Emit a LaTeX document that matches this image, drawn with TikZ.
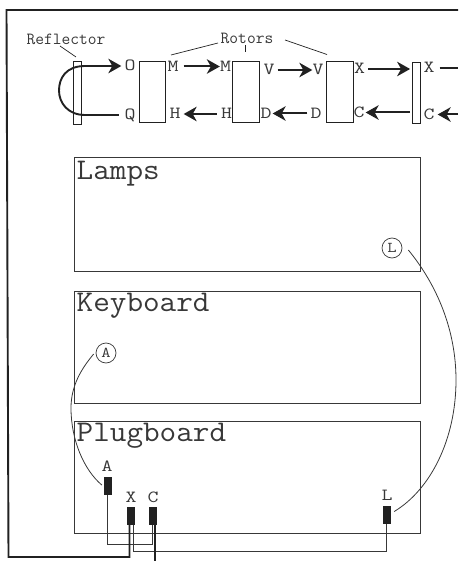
\documentclass[tikz,border=0pt]{standalone}
\usepackage{graphicx}
\usetikzlibrary{arrows.meta}
\definecolor{ink}{gray}{0.13}
\definecolor{thin}{gray}{0.22}
\newcommand{\wideT}[1]{\scalebox{1.075}[1]{#1}}
\newcommand{\wideL}[1]{\scalebox{1.25}[1]{#1}}
\tikzset{
  box/.style={draw=thin,line width=0.9pt,rectangle,inner sep=0pt},
  title/.style={anchor=base west,inner sep=0pt,text=thin,font=\fontsize{30}{30}\ttfamily},
  small/.style={inner sep=0pt,text=thin,font=\fontsize{17}{17}\ttfamily},
  lbl/.style={inner sep=0pt,text=thin,text height=10pt,text depth=0pt,font=\fontsize{17}{17}\ttfamily},
  plug/.style={inner sep=0pt,text=thin,font=\fontsize{17}{17}\ttfamily},
  jack/.style={fill=ink,draw=none,rectangle,inner sep=0pt,minimum width=8pt,minimum height=18pt},
  circ/.style={circle,draw=thin,line width=0.7pt,inner sep=0pt,minimum size=20pt,text=thin,font=\fontsize{15}{15}\ttfamily},
  arr/.style={draw=ink,line width=2pt,-{Stealth[length=13pt,width=14.5pt,inset=4pt]}},
  heavy/.style={draw=ink,line width=1.9pt},
  wire/.style={draw=thin,line width=0.8pt},
  pointer/.style={draw=ink,line width=0.7pt}
}
\begin{document}
\begin{tikzpicture}[x=1pt,y=-1pt]
\useasboundingbox (0,0) rectangle (458,561);
% boxes
\node[box,minimum width=346pt,minimum height=114pt] (lamps) at (247,214) {};
\node[box,minimum width=346pt,minimum height=112pt] (keyboard) at (247,347) {};
\node[box,minimum width=346pt,minimum height=112pt] (plugboard) at (247,477) {};
\node[title] (tl) at (76.5,179) {\wideT{Lamps}};
\node[title] (tk) at (76.5,311) {\wideT{Keyboard}};
\node[title] (tp) at (76.5,441) {\wideT{Plugboard}};
% rotor row
\node[box,draw=ink,minimum width=8pt,minimum height=63pt] (refl) at (77.3,92.5) {};
\node[box,draw=ink,minimum width=26.5pt,minimum height=60.5pt] (r1) at (152.3,92) {};
\node[box,draw=ink,minimum width=26.5pt,minimum height=60.5pt] (r2) at (246,92) {};
\node[box,draw=ink,minimum width=26.5pt,minimum height=60.5pt] (r3) at (339.7,92) {};
\node[box,draw=ink,minimum width=7.5pt,minimum height=61pt] (bar) at (416.3,92.5) {};
\node[small] (treflector) at (66,39) {Reflector};
\node[small] (trotors) at (247,38) {Rotors};
% letters
\node[lbl] (o) at (130,66) {\wideL{O}};
\node[lbl] (q) at (130,115) {\wideL{Q}};
\node[lbl] (m1) at (173,66.5) {\wideL{M}};
\node[lbl] (h1) at (175,114) {\wideL{H}};
\node[lbl] (m2) at (225.5,66.5) {\wideL{M}};
\node[lbl] (h2) at (226.5,114) {\wideL{H}};
\node[lbl] (v1) at (269,70) {\wideL{V}};
\node[lbl] (d1) at (266,113.5) {\wideL{D}};
\node[lbl] (v2) at (318,70) {\wideL{V}};
\node[lbl] (d2) at (316,113.5) {\wideL{D}};
\node[lbl] (x1) at (359.5,69) {\wideL{X}};
\node[lbl] (c1) at (359,112.5) {\wideL{C}};
\node[lbl] (x2) at (429,68) {\wideL{X}};
\node[lbl] (c2) at (429,114.5) {\wideL{C}};
% free ends
\coordinate (xout) at (458,68);
\coordinate (cin) at (458,114.5);
\coordinate (reflA) at (85,66);
\coordinate (reflB) at (85,115);
\coordinate (ptr1) at (60,46);
\coordinate (ptr2) at (76,57);
\coordinate (rl1) at (218,43);
\coordinate (rl2) at (171,55);
\coordinate (rc1) at (245,45);
\coordinate (rc2) at (245,52);
\coordinate (rr1) at (285,40);
\coordinate (rr2) at (327,54.5);
% arrows
\draw[heavy] (reflA) .. controls (66,66) and (59,78) .. (59,90.5) .. controls (59,103) and (68,115) .. (reflB);
\draw[arr,shorten >=3pt] (reflA) -- (o.west);
\draw[heavy,shorten >=5pt] (reflB) -- (q.west);
\draw[arr,shorten <=5pt,shorten >=0pt] (m1.east) -- (m2.west);
\draw[arr,shorten <=4pt,shorten >=3pt] (h2.west) -- (h1.east);
\draw[arr,shorten <=3pt,shorten >=0pt] (v1.east) -- (v2.west);
\draw[arr,shorten <=3pt,shorten >=1pt] (d2.west) -- (d1.east);
\draw[arr,shorten <=3pt,shorten >=2pt] (x1.east) -- (bar.west |- x1.east);
\draw[arr,shorten <=2pt,shorten >=1pt] (bar.west |- c1.east) -- (c1.east);
\draw[heavy,shorten <=5pt] (x2.east) -- (xout);
\draw[arr,shorten >=3pt] (cin) -- (c2.east);
\draw[pointer] (ptr1) -- (ptr2);
\draw[pointer] (rl1) -- (rl2);
\draw[pointer] (rc1) -- (rc2);
\draw[pointer] (rr1) -- (rr2);
% jacks
\node[jack] (ja) at (108,486) {};
\node[jack] (jx) at (131,516) {};
\node[jack] (jc) at (153,516) {};
\node[jack] (jl) at (387,514.5) {};
\node[plug] (la) at (107,466) {\wideL{A}};
\node[plug] (lx) at (131,497) {\wideL{X}};
\node[plug] (lc) at (153,497) {\wideL{C}};
\node[plug] (ll) at (387,495) {\wideL{L}};
% circles
\node[circ] (ca) at (106,353) {\scalebox{1.2}[1]{A}};
\node[circ] (cl) at (392,248) {\scalebox{1.2}[1]{L}};
% long curves
\draw[wire] (ca.west) ++(-2,1) .. controls (82,368) and (71,385) .. (71,408) .. controls (71,440) and (84,470) .. ([xshift=-2pt,yshift=1pt]ja.west);
\draw[wire] (cl.east) ++(6,2) .. controls (437,285) and (456,330) .. (456,380) .. controls (456,440) and (430,490) .. ([xshift=3pt,yshift=3pt]jl.east);
% wires
\coordinate (n1) at (107,544);
\coordinate (n2) at (152,544);
\coordinate (n3) at (133.3,551);
\coordinate (n4) at (386,551);
\coordinate (n5) at (8.5,557);
\coordinate (n6) at (129.5,557);
\coordinate (n7) at (6.5,10);
\coordinate (n8) at (458,10);
\coordinate (n9) at (155,561);
\draw[wire] ([xshift=-1pt]ja.south) -- (n1) -- (n2) -- ([xshift=-1pt]jc.south);
\draw[wire] ([xshift=2.3pt]jx.south) -- (n3) -- (n4) -- ([xshift=-1pt]jl.south);
\draw[heavy] (n8) -- (n7) -- (n5) -- (n6) -- ([xshift=-1.5pt]jx.south);
\draw[heavy] ([xshift=2pt]jc.south) -- (n9);
\end{tikzpicture}
\end{document}
